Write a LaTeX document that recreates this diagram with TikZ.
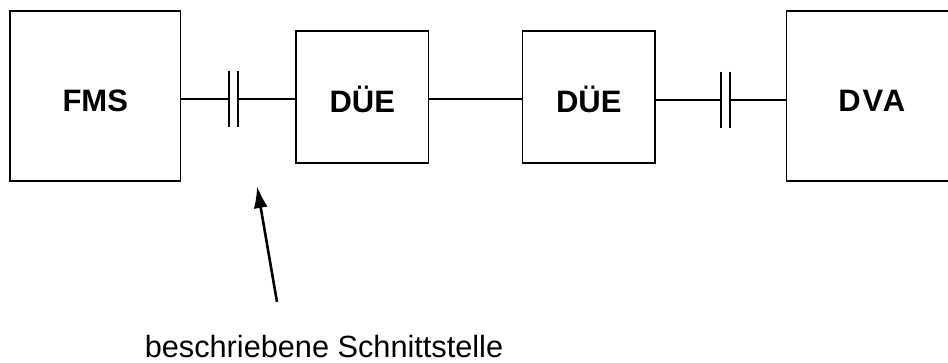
\documentclass[tikz,border=0pt]{standalone}
\usepackage{fontspec}
\setmainfont{Liberation Sans}
\usetikzlibrary{arrows.meta}
\begin{document}
\begin{tikzpicture}[x=1pt,y=-1pt,
  blk/.style={draw,line width=1.3pt,inner sep=0pt,text height=32pt,text depth=0pt,font=\fontsize{31}{36}\selectfont\bfseries},
  wire/.style={line width=1.3pt},
  plate/.style={line width=1.3pt},
  pointer/.style={line width=2.6pt,-{Latex[length=22pt,width=14pt]}}]
\useasboundingbox (0,0) rectangle (948,363);
\clip (0,0) rectangle (948,363);
\node[blk,minimum width=170.5pt,minimum height=170pt] (fms) at (95.25,96) {FMS};
\node[blk,minimum width=132.5pt,minimum height=132pt] (due1) at (362.25,97) {DÜE};
\node[blk,minimum width=132.5pt,minimum height=132pt] (due2) at (588.75,97) {DÜE};
\node[blk,minimum width=170.5pt,minimum height=170pt] (dva) at (871.75,96) {\addfontfeature{LetterSpace=6}DVA};
\coordinate (c1a) at (229,99);
\coordinate (c1b) at (238,99);
\coordinate (c2a) at (721,100);
\coordinate (c2b) at (730,100);
\draw[wire] (fms.east |- c1a) -- (c1a);
\draw[wire] (c1b) -- (due1.west |- c1b);
\draw[wire] (due1.east |- 0,99) -- (due2.west |- 0,99);
\draw[wire] (due2.east |- c2a) -- (c2a);
\draw[wire] (c2b) -- (dva.west |- c2b);
\draw[plate] (c1a) ++(0,-28) -- ++(0,56);
\draw[plate] (c1b) ++(0,-28) -- ++(0,56);
\draw[plate] (c2a) ++(0,-28) -- ++(0,56);
\draw[plate] (c2b) ++(0,-28) -- ++(0,56);
\node[font=\fontsize{30.7}{36}\selectfont,anchor=base,inner sep=0pt] (lbl) at (324,357.5) {beschriebene Schnittstelle};
\coordinate (tail) at (277,302);
\coordinate (tip) at (257,186);
\draw[pointer] (tail) -- (tip);
\end{tikzpicture}
\end{document}
